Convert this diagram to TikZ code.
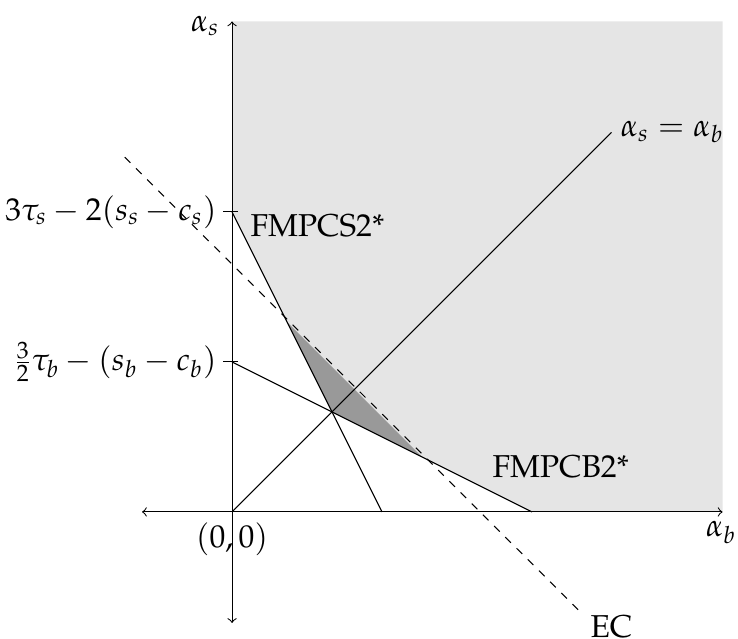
\documentclass[tikz,border=0pt]{standalone}
\usepackage[T1]{fontenc}
\usepackage{mathpazo}
\begin{document}
\begin{tikzpicture}[x=2cm,y=2cm,font=\large,
  axisline/.style={<->,line width=0.4pt},
  curve/.style={line width=0.4pt},
  lightfill/.style={fill=black!10},
  darkfill/.style={fill=black!40},
  lbl/.style={inner sep=0pt}]
\useasboundingbox (-1.547,-0.847) rectangle (3.373,3.413);
% key points
\coordinate (O) at (0,0);
\coordinate (S2) at (0,2);
\coordinate (S0) at (1,0);
\coordinate (B1) at (0,1);
\coordinate (B0) at (2,0);
\coordinate (Q) at (2/3,2/3);
\coordinate (P1) at (0.367,1.266);
\coordinate (P2) at (1.266,0.367);
\coordinate (D) at (2.53,2.53);
\coordinate (E1) at (-0.715,2.365);
\coordinate (E2) at (2.32,-0.665);
\coordinate (XL) at (-0.6,0);
\coordinate (XR) at (3.27,0);
\coordinate (YB) at (0,-0.74);
\coordinate (YT) at (0,3.27);
% regions
\fill[lightfill] (0,3.27) -- (S2) -- (P1) -- (P2) -- (B0) -- (3.27,0) -- (3.27,3.27) -- cycle;
\fill[darkfill] (P1) -- (Q) -- (P2) -- cycle;
% lines
\draw[curve] (S2) -- (S0);
\draw[curve] (B1) -- (B0);
\draw[curve] (O) -- (D);
\draw[curve,dashed] (E1) -- (E2);
% axes
\draw[axisline] (XL) -- (XR);
\draw[axisline] (YB) -- (YT);
% ticks
\coordinate (T2l) at (-0.06,2);
\coordinate (T2r) at (0.04,2);
\coordinate (T1l) at (-0.06,1);
\coordinate (T1r) at (0.04,1);
\draw[curve] (T2l) -- (T2r);
\draw[curve] (T1l) -- (T1r);
% labels
\node[lbl,anchor=east] (ls) at (-0.1,2) {$3\tau_s-2(s_s-c_s)$};
\node[lbl,anchor=east] (lb) at (-0.1,1) {$\frac{3}{2}\tau_b-(s_b-c_b)$};
\node[lbl,anchor=east] (ay) at (-0.08,3.24) {$\alpha_s$};
\node[lbl,anchor=north] (ax) at (3.26,-0.06) {$\alpha_b$};
\node[lbl,anchor=north] (or) at (0,-0.07) {$(0,0)$};
\node[lbl,anchor=west] (fs) at (0.12,1.91) {FMPCS2*};
\node[lbl,anchor=west] (fb) at (1.733,0.3) {FMPCB2*};
\node[lbl,anchor=west] (dg) at (2.587,2.533) {$\alpha_s=\alpha_b$};
\node[lbl,anchor=west] (ec) at (2.387,-0.767) {EC};
\end{tikzpicture}
\end{document}
